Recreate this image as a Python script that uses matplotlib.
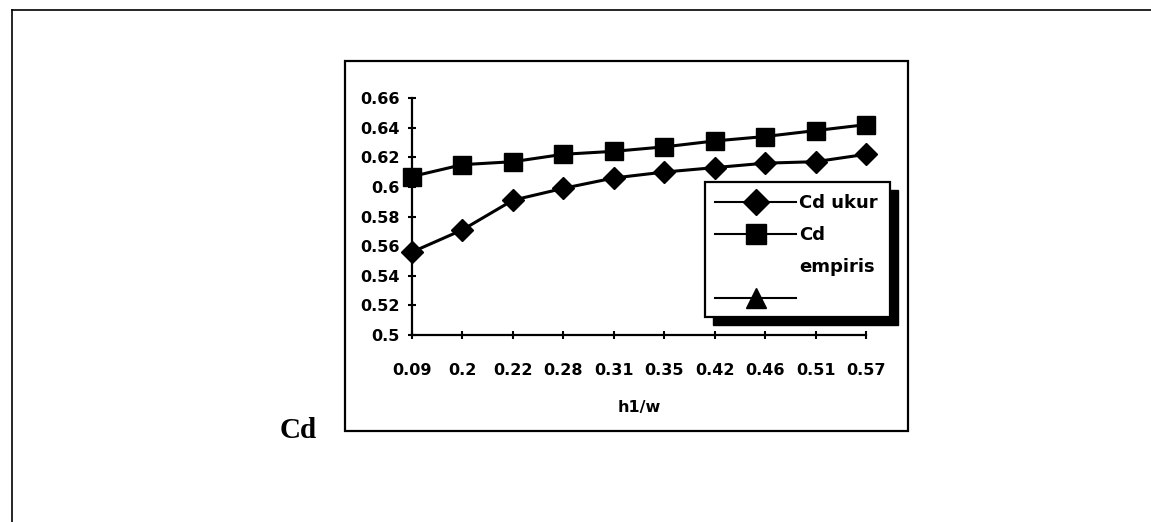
import matplotlib
matplotlib.use('Agg')
import matplotlib.pyplot as plt
from matplotlib.lines import Line2D
from matplotlib.patches import Rectangle

# data
h1w_labels = ['0.09', '0.2', '0.22', '0.28', '0.31', '0.35', '0.42', '0.46', '0.51', '0.57']
cd_ukur = [0.556, 0.571, 0.591, 0.599, 0.606, 0.610, 0.613, 0.616, 0.617, 0.622]
cd_empiris = [0.607, 0.615, 0.617, 0.622, 0.624, 0.627, 0.631, 0.634, 0.638, 0.642]
y_ticks = [0.5, 0.52, 0.54, 0.56, 0.58, 0.6, 0.62, 0.64, 0.66]
y_tick_labels = ['0.5', '0.52', '0.54', '0.56', '0.58', '0.6', '0.62', '0.64', '0.66']

W, H = 1151, 522
fig = plt.figure(figsize=(W / 100, H / 100), dpi=100)
fig.patch.set_facecolor('white')


def fx(px):
    return px / W


def fy(py):
    return 1 - py / H


# outer page frame (top + left only)
fig.add_artist(Line2D([fx(12), 1], [fy(10), fy(10)], color='black', lw=1.2))
fig.add_artist(Line2D([fx(12), fx(12)], [fy(10), 0], color='black', lw=1.2))

# inner chart box
fig.add_artist(Rectangle((fx(345), fy(431)), fx(908) - fx(345), fy(61) - fy(431),
                         transform=fig.transFigure, fill=False, ec='black', lw=1.6))

ax = fig.add_axes([fx(412), fy(335), fx(866) - fx(412), fy(98) - fy(335)])
x = list(range(len(h1w_labels)))
ax.plot(x, cd_ukur, color='black', lw=2.2, marker='D', ms=11, clip_on=False, zorder=3)
ax.plot(x, cd_empiris, color='black', lw=2.2, marker='s', ms=13, clip_on=False, zorder=3)

ax.set_xlim(0, len(h1w_labels) - 1)
ax.set_ylim(0.5, 0.66)
for s in ['top', 'right']:
    ax.spines[s].set_visible(False)
for s in ['left', 'bottom']:
    ax.spines[s].set_linewidth(1.6)
ax.set_facecolor('none')

ax.set_xticks(x)
ax.set_xticklabels(h1w_labels, fontsize=11.5, fontweight='bold')
ax.set_yticks(y_ticks)
ax.set_yticklabels(y_tick_labels, fontsize=11.5, fontweight='bold')
ax.tick_params(axis='both', direction='inout', length=6, width=1.5)
ax.tick_params(axis='x', pad=17)
ax.tick_params(axis='y', pad=6)
ax.set_xlabel('h1/w', fontsize=11.5, fontweight='bold', labelpad=16)

# legend box with shadow
lx0, ly0, lx1, ly1 = 705, 182, 890, 317
fig.add_artist(Rectangle((fx(lx0 + 8), fy(ly1 + 8)), fx(lx1) - fx(lx0), fy(ly0) - fy(ly1),
                         transform=fig.transFigure, fc='black', ec='black', lw=1, zorder=4))
fig.add_artist(Rectangle((fx(lx0), fy(ly1)), fx(lx1) - fx(lx0), fy(ly0) - fy(ly1),
                         transform=fig.transFigure, fc='white', ec='black', lw=1.6, zorder=5))

handles = [
    Line2D([], [], color='black', lw=1.5, marker='D', ms=13),
    Line2D([], [], color='black', lw=1.5, marker='s', ms=14),
    Line2D([], [], color='none'),
    Line2D([], [], color='black', lw=1.5, marker='^', ms=14),
]
labels = ['Cd ukur', 'Cd', 'empiris', ' ']
leg = fig.legend(handles, labels, loc='upper left', bbox_to_anchor=(fx(715), fy(194)),
                 frameon=False, prop={'weight': 'bold', 'size': 13},
                 handlelength=4.5, handletextpad=0.15, borderpad=0, borderaxespad=0,
                 labelspacing=0.78)
leg.set_zorder(6)

fig.text(fx(280), fy(430), 'Cd', family='Liberation Serif', fontweight='bold',
         fontsize=21, ha='left', va='center')

fig.savefig('out.png', dpi=100)
